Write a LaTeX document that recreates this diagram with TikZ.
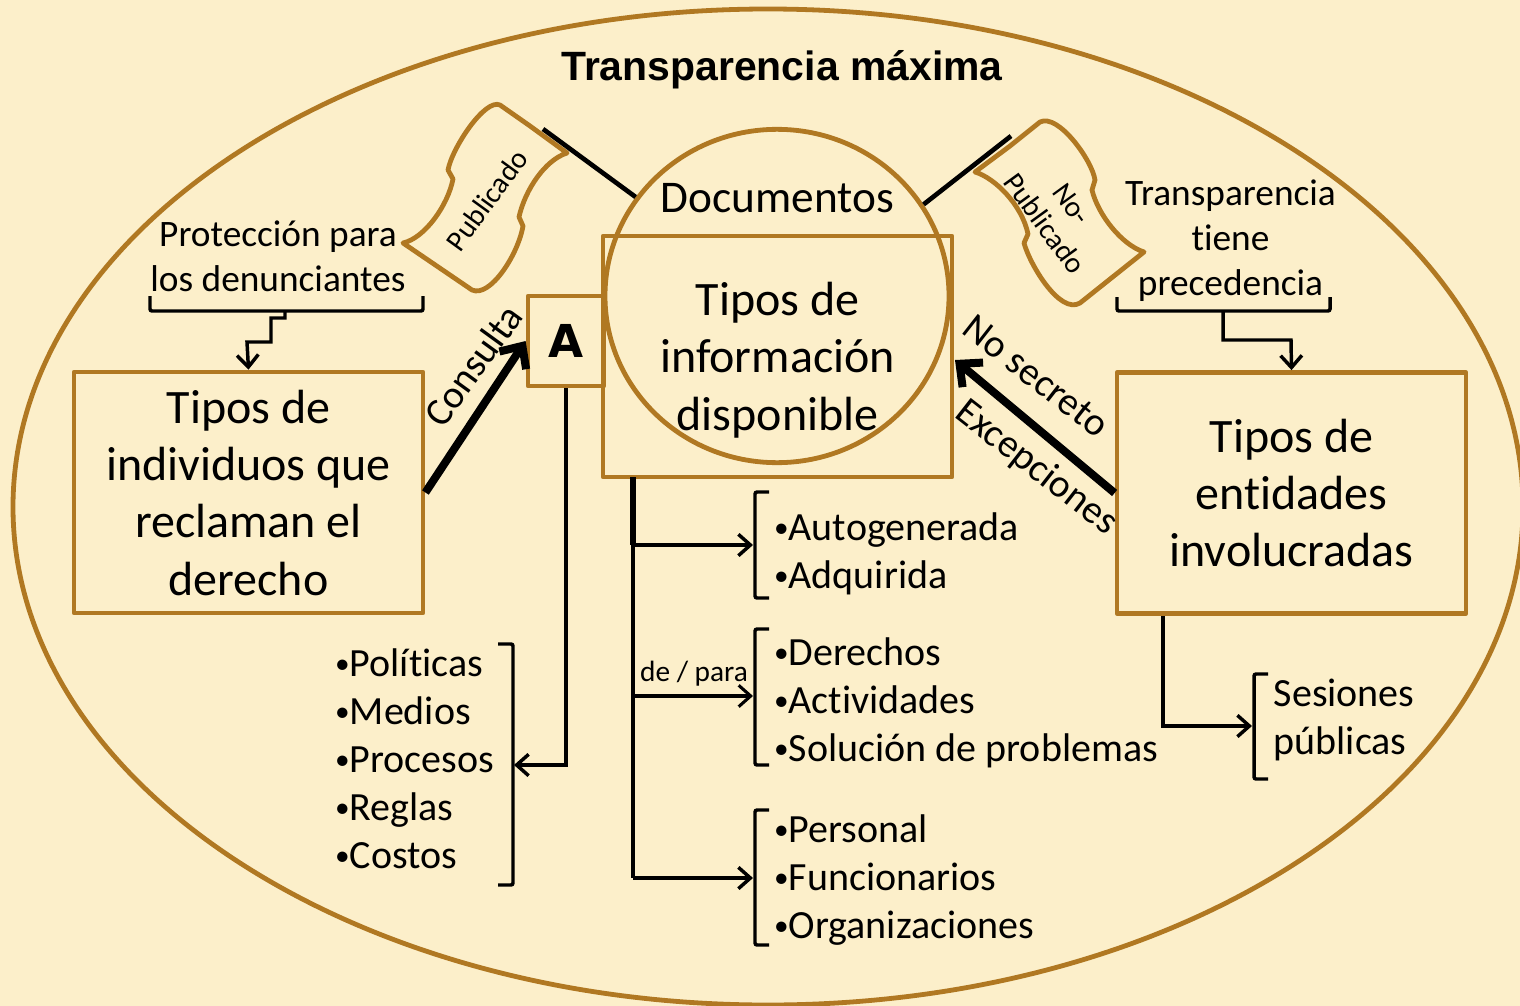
\documentclass[tikz,border=0pt]{standalone}
\usepackage{fontspec}
\setmainfont{Carlito}[Ligatures=NoCommon]
\newfontfamily\titlefont{Liberation Sans}
\newfontfamily\letterfont{DejaVu Sans}
\usetikzlibrary{arrows.meta}
\usetikzlibrary{shapes.geometric}
\definecolor{paper}{HTML}{FCEFCA}
\definecolor{ochre}{HTML}{B07822}
\newcommand{\blt}{{\fontsize{22}{22}\selectfont\raisebox{2.5pt}{•}}}
\tikzset{>={Straight Barb[length=9pt,width=16pt]}}
\tikzset{
    edge/.style={draw=ochre, line width=3.6pt, line join=round},
    box/.style={edge, inner sep=0pt, align=center, minimum width=261.75pt},
    big/.style={font=\fontsize{36}{43}\selectfont, align=center},
    list/.style={font=\fontsize{30}{36}\selectfont, align=left},
    note/.style={font=\fontsize{28}{33.75}\selectfont, align=center},
    tilted/.style={font=\fontsize{29.5}{34}\selectfont, align=center},
    small/.style={font=\fontsize{22}{25}\selectfont, align=center},
    bracket/.style={line width=2.6pt, rounded corners=1.5pt},
    link/.style={line width=2.6pt, ->},
    fat/.style={line width=6pt, ->, >={Straight Barb[length=13pt,width=24pt]}},
}

\begin{document}
\begin{tikzpicture}[x=0.75pt, y=-0.75pt]
    \useasboundingbox(0, 0)rectangle(1520, 1006);
    \fill[paper](0, 0)rectangle(1520, 1006);
    \draw[edge](768, 507)ellipse[x radius=755, y radius=498];

    \node(title)at(782, 70){\titlefont\bfseries\fontsize{30.7}{36}\selectfont Transparencia máxima};

    \node(info)[box, minimum height=180.75pt]at(777.5, 356.5){};
    \node(doc)[edge, ellipse, inner sep=0pt, minimum width=258pt, minimum height=250pt]at(777, 296){};
    \node(docs)[big, font=\fontsize{34}{40}\selectfont]at(777.5, 198){Documentos};
    \node(infolabel)[big]at(777.5, 360){Tipos de\\información\\disponible};
    \node(boxa)[box, minimum width=57pt, minimum height=67.5pt]at(566, 341){\letterfont\bfseries\fontsize{34}{34}\selectfont A};
    \node(indiv)[box, big, minimum height=180.75pt]at(248.5, 492.5){Tipos de\\individuos que\\reclaman el\\derecho};
    \node(entid)[box, big, minimum height=180.75pt]at(1291.5, 493){Tipos de\\entidades\\involucradas};

    \draw[edge](530, 126)--(567, 153)
        ..controls(545, 160)and(525, 190)..(519, 217)--(523, 226)
        ..controls(518, 255)and(490, 298)..(472, 290)--(403, 243)
        ..controls(425, 238)and(448, 205)..(453, 179)--(448, 170)
        ..controls(452, 148)and(485, 98)..(500, 105)--cycle;
    \draw[edge](1010, 146)--(975, 172)
        ..controls(995, 178)and(1022, 205)..(1028, 234)--(1024, 243)
        ..controls(1030, 265)and(1060, 315)..(1080, 303)--(1144, 252)
        ..controls(1122, 245)and(1098, 215)..(1092, 190)--(1095, 180)
        ..controls(1092, 160)and(1058, 113)..(1040, 122)--cycle;
    \node(pub)[small, rotate=54]at(487, 200){Publicado};
    \node(nopub)[small, rotate=-54]at(1058, 214){No-\\Publicado};
    \coordinate(pubend)at(543, 129);
    \coordinate(nopubend)at(1011, 136);
    \draw[line width=3.5pt](pubend)--(doc.145);
    \draw[line width=3.5pt](nopubend)--(doc.32);

    \node(protect)[note]at(278, 256){Protección para\\los denunciantes};
    \node(preced)[note]at(1230.5, 241){Transparencia\\tiene\\precedencia};
    \draw[bracket](150, 296)--(150, 311)--(423, 311)--(423, 296);
    \draw[bracket](1117, 297)--(1117, 311)--(1330, 311)--(1330, 297);
    \coordinate(protectfoot)at(285, 311);
    \coordinate(precedfoot)at(1223, 311);
    \draw[link](protectfoot)--(285, 318)--(271, 318)--(271, 342)--(247, 342)--(indiv.north);
    \draw[link](precedfoot)--(1223, 340)--(1291, 340)--(entid.north);

    \coordinate(notip)at(955, 360);
    \draw[fat](indiv.east)--(boxa.west);
    \draw[fat](entid.west)--(notip);
    \node(consulta)[tilted, rotate=54]at(473, 365){Consulta};
    \node(nosecreto)[tilted, rotate=-38]at(1036, 376){No secreto};
    \node(excep)[tilted, rotate=-38]at(1036, 468){Excepciones};

    \node(pollist)[list, anchor=west]at(330.5, 759){\blt Políticas\\\blt Medios\\\blt Procesos\\\blt Reglas\\\blt Costos};
    \node(genlist)[list, anchor=west]at(769.5, 554){\blt Autogenerada\\\blt Adquirida};
    \node(derlist)[list, anchor=west]at(769.5, 703){\blt Derechos\\\blt Actividades\\\blt Solución de problemas};
    \node(perlist)[list, anchor=west]at(769.5, 880){\blt Personal\\\blt Funcionarios\\\blt Organizaciones};
    \node(seslist)[list, anchor=west]at(1269, 720){Sesiones\\públicas};
    \node(depara)[small]at(694, 674){de / para};

    \draw[bracket](498, 644)--(513, 644)--(513, 885)--(498, 885);
    \draw[bracket](769, 492)--(755, 492)--(755, 598)--(769, 598);
    \draw[bracket](769, 629)--(755, 629)--(755, 765)--(769, 765);
    \draw[bracket](769, 810)--(755, 810)--(755, 945)--(769, 945);
    \draw[bracket](1268, 674)--(1254, 674)--(1254, 779)--(1268, 779);

    \coordinate(trunk)at(633, 477);
    \coordinate(trunkmid)at(633, 545);
    \coordinate(trunkpara)at(633, 696);
    \coordinate(trunkend)at(633, 878);
    \coordinate(polend)at(514, 765);
    \coordinate(genend)at(753, 545);
    \coordinate(derend)at(753, 696);
    \coordinate(perend)at(753, 878);
    \coordinate(sesend)at(1252, 726);
    \draw[line width=4pt](trunk)--(trunkmid);
    \draw[line width=2.6pt](trunkmid)--(trunkend);
    \draw[link](trunkmid)--(genend);
    \draw[link, line width=2.3pt](trunkpara)--(derend);
    \draw[link](trunkend)--(perend);
    \draw[link](boxa.south)--(566, 765)--(polend);
    \draw[link](entid.south -| 1163, 0)--(1163, 726)--(sesend);
\end{tikzpicture}
\end{document}
